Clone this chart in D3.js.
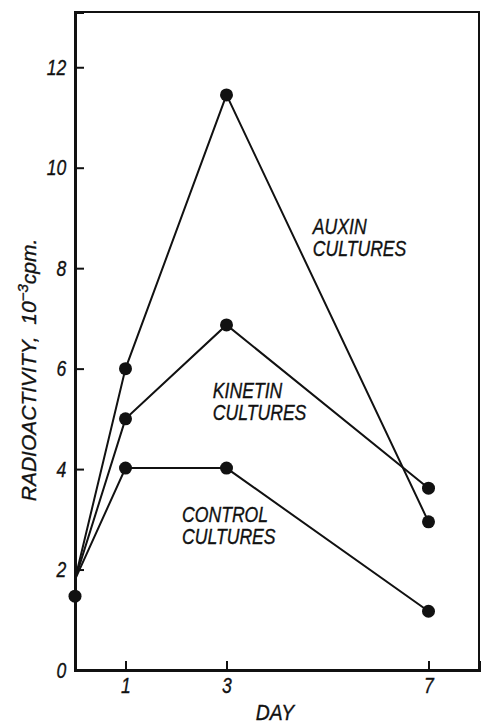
<!DOCTYPE html>
<html>
<head>
<meta charset="utf-8">
<script src="https://cdn.jsdelivr.net/npm/d3@7"></script>
<style>
  body { margin: 0; background: #fff; }
  text { font-family: "Liberation Sans", Arial, sans-serif; font-style: italic; fill: #111; stroke: #111; stroke-width: 0.35px; }
</style>
</head>
<body>
<div id="chart"></div>
<script>
// Days sampled and radioactivity (10^-3 cpm) per culture
const days = [0, 1, 3, 7];
const auxin = [1.8, 6.0, 11.45, 2.95];
const kinetin = [1.8, 5.0, 6.87, 3.62];
const control = [1.8, 4.02, 4.02, 1.17];
// the starting sample sits a little below where the lines meet
const startDay = 0;
const startValue = 1.47;

const yTicks = [0, 2, 4, 6, 8, 10, 12];
const xTicks = [1, 3, 7];

const labels = [
  { lines: ['AUXIN', 'CULTURES'], day: 4.71, value: 8.68 },
  { lines: ['KINETIN', 'CULTURES'], day: 2.73, value: 5.42 },
  { lines: ['CONTROL', 'CULTURES'], day: 2.12, value: 2.95 }
];

const width = 481;
const height = 723;
const squeeze = 0.8; // the lettering is a condensed face

const svg = d3.select('#chart')
  .append('svg')
  .attr('width', width)
  .attr('height', height);

const x = d3.scaleLinear().domain([0, 8]).range([75, 479]);
const y = d3.scaleLinear().domain([0, 13.1]).range([670, 12]);

// frame: top and right edges
svg.append('path')
  .attr('d', `M${x(0)},${y(13.1)}H${x(8)}V${y(0)}`)
  .attr('fill', 'none')
  .attr('stroke', '#111')
  .attr('stroke-width', 2);

// y axis with inward ticks
const yAxis = svg.append('g')
  .attr('transform', `translate(${x(0)},0)`)
  .call(d3.axisLeft(y).tickValues(yTicks).tickSize(-9).tickPadding(11).tickFormat(d3.format('d')));
yAxis.select('.domain').attr('stroke-width', 3).attr('stroke', '#111');
yAxis.selectAll('.tick line').attr('stroke-width', 2).attr('stroke', '#111');
yAxis.selectAll('.tick text')
  .style('font-size', '22px')
  .attr('fill', '#111')
  .attr('transform', `scale(${squeeze},1)`);

// x axis
const xAxis = svg.append('g')
  .attr('transform', `translate(0,${y(0)})`)
  .call(d3.axisBottom(x).tickValues(xTicks).tickSize(-9).tickPadding(7).tickFormat(d3.format('d')));
xAxis.select('.domain').attr('stroke-width', 3).attr('stroke', '#111');
xAxis.selectAll('.tick line').attr('stroke-width', 2).attr('stroke', '#111');
xAxis.selectAll('.tick text')
  .style('font-size', '22px')
  .attr('fill', '#111')
  .attr('transform', `scale(${squeeze},1)`);

// axis titles
svg.append('text')
  .attr('transform', 'translate(275,720) scale(0.88,1)')
  .attr('text-anchor', 'middle')
  .style('font-size', '22px')
  .text('DAY');

const yTitle = svg.append('text')
  .attr('transform', 'translate(36,370) rotate(-90)')
  .attr('text-anchor', 'middle')
  .style('font-size', '21px')
  .style('white-space', 'pre');
yTitle.append('tspan').text('RADIOACTIVITY,  10');
yTitle.append('tspan').attr('dy', -8).style('font-size', '15px').text('\u22123');
yTitle.append('tspan').attr('dy', 8).text('cpm.');

// series lines and points
const line = d3.line()
  .x((d, i) => x(days[i]))
  .y(d => y(d));

[auxin, kinetin, control].forEach(series => {
  svg.append('path')
    .datum(series)
    .attr('d', line)
    .attr('fill', 'none')
    .attr('stroke', '#111')
    .attr('stroke-width', 2);

  svg.selectAll(null)
    .data(series.slice(1))
    .enter()
    .append('circle')
    .attr('cx', (d, i) => x(days[i + 1]))
    .attr('cy', d => y(d))
    .attr('r', 6.5)
    .attr('fill', '#111');
});

svg.append('circle')
  .attr('cx', x(startDay))
  .attr('cy', y(startValue))
  .attr('r', 6.5)
  .attr('fill', '#111');

// curve labels
labels.forEach(l => {
  const t = svg.append('text')
    .attr('transform', `translate(${x(l.day)},${y(l.value)}) scale(${squeeze},1)`)
    .style('font-size', '22px');
  l.lines.forEach((s, i) => {
    t.append('tspan')
      .attr('x', 0)
      .attr('dy', i === 0 ? 0 : 22)
      .text(s);
  });
});
</script>
</body>
</html>
